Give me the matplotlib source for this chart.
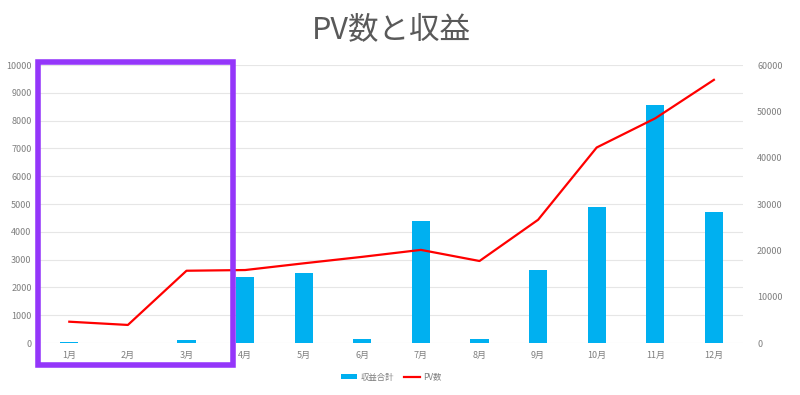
import matplotlib.pyplot as plt
from matplotlib.patches import Rectangle

plt.rcParams['font.family'] = ['Noto Sans CJK JP', 'DejaVu Sans']

months = ["1月", "2月", "3月", "4月", "5月", "6月", "7月", "8月", "9月", "10月", "11月", "12月"]
revenue = [20, 15, 120, 2390, 2520, 160, 4380, 140, 2620, 4900, 8560, 4700]
pv = [4600, 3900, 15600, 15750, 17200, 18600, 20100, 17700, 26600, 42200, 48500, 56800]

fig = plt.figure(figsize=(8, 3.95), dpi=100)
ax = fig.add_axes([0.05, 0.1316, 0.879, 0.7038])
ax2 = ax.twinx()

x = range(len(months))
ax.bar(x, revenue, width=0.31, color="#00B0F0", label="収益合計", zorder=2)
ax2.plot(x, pv, color="#FF0000", lw=1.6, label="PV数", zorder=3)

ax.set_xlim(-0.5, 11.5)
ax.set_ylim(0, 10000)
ax.set_yticks(range(0, 10001, 1000))
ax2.set_ylim(0, 60000)
ax2.set_yticks(range(0, 60001, 10000))
ax.set_xticks(list(x))
ax.set_xticklabels(months)

ax.grid(axis="y", color="#E6E6E6", lw=0.8, zorder=0)
ax.set_axisbelow(True)
for a in (ax, ax2):
    for s in a.spines.values():
        s.set_visible(False)
    a.tick_params(length=0, labelsize=6.5, colors="#7F7F7F")
ax.tick_params(axis="x", pad=6)
ax.tick_params(axis="y", pad=6)
ax2.tick_params(axis="y", pad=10)

# title centred over the plot area
fig.text(0.4894, 0.925, "PV数と収益", fontsize=22, color="#595959",
         ha="center", va="center")

h1, l1 = ax.get_legend_handles_labels()
h2, l2 = ax2.get_legend_handles_labels()
fig.legend(h1 + h2, l1 + l2, loc="center", bbox_to_anchor=(0.4894, 0.045), ncol=2,
           frameon=False, fontsize=6, labelcolor="#7F7F7F",
           handlelength=1.9, handleheight=0.5, handletextpad=0.4, columnspacing=1.2)

fig.patches.append(Rectangle((38 / 800, 1 - 365 / 395), 195 / 800, 303 / 395,
                             transform=fig.transFigure, fill=False,
                             edgecolor="#9436FA", lw=4, zorder=10))

fig.savefig("out.png", dpi=100)
